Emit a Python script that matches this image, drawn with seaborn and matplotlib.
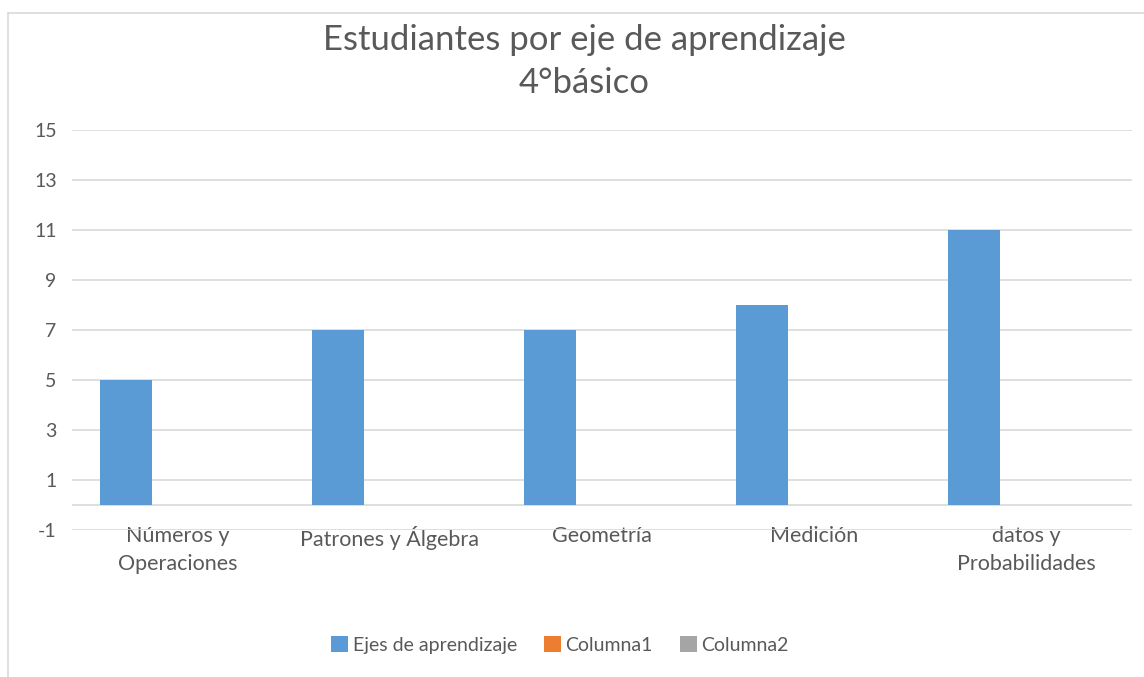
import numpy as np
import pandas as pd
import seaborn as sns
import matplotlib.pyplot as plt
from matplotlib.lines import Line2D

categorias = ['Números y\nOperaciones', 'Patrones y Álgebra', 'Geometría', 'Medición', 'datos y\nProbabilidades']
ejes = [5, 7, 7, 8, 11]
columna1 = [0, 0, 0, 0, 0]
columna2 = [0, 0, 0, 0, 0]
series = ['Ejes de aprendizaje', 'Columna1', 'Columna2']
colores = ['#5B9BD5', '#ED7D31', '#A5A5A5']
yticks = [-1, 1, 3, 5, 7, 9, 11, 13, 15]

df = pd.DataFrame({
    'cat': categorias * 3,
    'serie': [series[0]] * 5 + [series[1]] * 5 + [series[2]] * 5,
    'valor': ejes + columna1 + columna2,
})

sns.set_style('white')
plt.rcParams['font.family'] = ['Lato', 'DejaVu Sans']
gris = '#595959'

W, H = 1144, 677
fig = plt.figure(figsize=(W / 100, H / 100), dpi=100)
ax = fig.add_axes([72 / W, 1 - 530 / H, (1132 - 72) / W, 400 / H])

sns.barplot(data=df, x='cat', y='valor', hue='serie', hue_order=series,
            palette=colores, saturation=1, width=0.74, linewidth=0, ax=ax, legend=True)

ax.set_ylim(-1, 15)
ax.set_xlim(-0.5, 4.5)
ax.set_yticks(yticks)
ax.set_yticklabels([str(t) for t in yticks])
ax.yaxis.grid(True, color='#d9d9d9', linewidth=1.2)
ax.axhline(0, color='#d9d9d9', linewidth=1.2, zorder=0.5)
ax.set_axisbelow(True)
for s in ax.spines.values():
    s.set_visible(False)
ax.set_xlabel('')
ax.set_ylabel('')
ax.tick_params(axis='y', length=0, pad=11, labelsize=14, labelcolor=gris)
ax.tick_params(axis='x', length=0, pad=-3, labelsize=15.5, labelcolor=gris)
for lbl in ax.get_xticklabels():
    lbl.set_linespacing(1.5)

fig.text(0.511, 1 - 40 / H, 'Estudiantes por eje de aprendizaje', ha='center', va='center',
         fontsize=25, color=gris)
fig.text(0.511, 1 - 83 / H, '4°básico', ha='center', va='center', fontsize=25, color=gris)

handles, labels = ax.get_legend_handles_labels()
ax.legend(handles, labels, loc='center', bbox_to_anchor=(560 / W, 1 - 645 / H),
          bbox_transform=fig.transFigure, ncol=3, frameon=False, fontsize=14,
          handlelength=0.85, handleheight=0.85, handletextpad=0.25, columnspacing=1.4,
          labelcolor=gris)

# marco del grafico
fig.add_artist(Line2D([8 / W, 8 / W], [0, 1 - 13 / H], color='#d9d9d9', linewidth=1.2))
fig.add_artist(Line2D([8 / W, 1], [1 - 13 / H, 1 - 13 / H], color='#d9d9d9', linewidth=1.2))

fig.savefig('out.png', dpi=100)
